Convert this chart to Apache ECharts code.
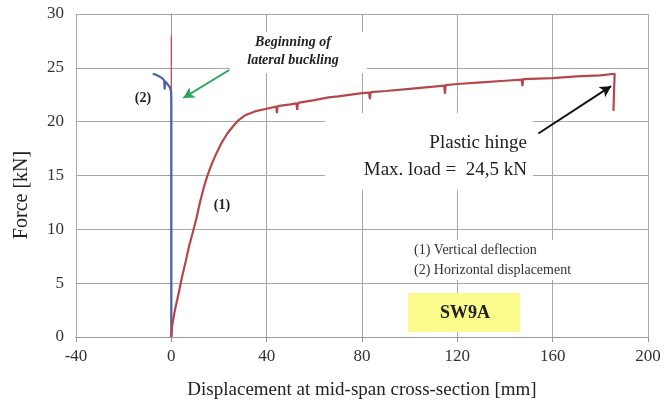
<!DOCTYPE html>
<html>
<head>
<meta charset="utf-8">
<script src="https://cdn.jsdelivr.net/npm/echarts@6/dist/echarts.min.js"></script>
<style>
html,body{margin:0;padding:0;background:#fff;}
#c{width:666px;height:405px;}
</style>
</head>
<body>
<div id="c"></div>
<script>
// X ticks and Y ticks
var xTicks = [-40, 0, 40, 80, 120, 160, 200];
var yTicks = [0, 5, 10, 15, 20, 25, 30];

// (1) Vertical deflection: displacement [mm]
var vertDisp = [0, 0.3, 1.5, 3, 4.5, 6, 7.5, 9, 10.5, 12, 13.5, 15, 17, 19, 21, 23.5, 26, 28, 31, 35, 40, 44, 44.3, 44.6, 50, 52.5, 52.8, 53.1, 60, 66, 70, 80, 83, 83.3, 83.6, 90, 100, 110, 114.5, 114.8, 115.1, 120, 130, 140, 147, 147.3, 147.6, 160, 170, 180, 186, 186.8, 185.5];
// (1) Vertical deflection: force [kN]
var vertForce = [0, 1, 2.5, 4, 5.6, 7, 8.5, 9.7, 11, 12.5, 13.8, 14.9, 16.1, 17.1, 18, 18.9, 19.6, 20.1, 20.6, 20.95, 21.2, 21.4, 20.8, 21.45, 21.6, 21.7, 21.1, 21.75, 22.0, 22.25, 22.35, 22.65, 22.7, 22.1, 22.75, 22.85, 23.05, 23.25, 23.35, 22.6, 23.4, 23.5, 23.65, 23.8, 23.9, 23.3, 23.95, 24.05, 24.2, 24.3, 24.45, 24.4, 21.0];

// (2) Horizontal displacement
var horDisp = [0, 0, -0.1, -0.6, -1.5, -2.6, -2.8, -3.0, -3.6, -5, -6.5, -7.8];
var horForce = [0, 22.2, 22.8, 23.2, 23.45, 23.75, 23.0, 23.8, 24.0, 24.2, 24.35, 24.45];

// thin vertical trace at zero
var spikeDisp = [0, 0];
var spikeForce = [0, 28];

// annotation arrows [from, to] in data units
var greenArrow = [[24.3, 24.8], [5.0, 22.2]];
var blackArrow = [[154, 18.9], [184.5, 23.3]];

function zip(a, b) { return a.map(function (v, i) { return [v, b[i]]; }); }

var FONT = 'Liberation Serif';
var chart = echarts.init(document.getElementById('c'));
chart.setOption({
  animation: false,
  backgroundColor: '#fff',
  grid: { left: 76, right: 18, top: 14, bottom: 63 },
  xAxis: {
    type: 'value', min: xTicks[0], max: xTicks[xTicks.length - 1], interval: 40,
    name: 'Displacement at mid-span cross-section [mm]',
    nameLocation: 'middle', nameGap: 44,
    nameTextStyle: { fontFamily: FONT, fontSize: 19, color: '#222' },
    axisLine: { onZero: false, lineStyle: { color: '#999' } },
    axisTick: { show: true, length: 5, lineStyle: { color: '#999' } },
    axisLabel: { fontFamily: FONT, fontSize: 17, color: '#333', margin: 11 },
    splitLine: { show: true, lineStyle: { color: '#a8a8a8', width: 1 } }
  },
  yAxis: {
    type: 'value', min: yTicks[0], max: yTicks[yTicks.length - 1], interval: 5,
    axisLine: { show: true, lineStyle: { color: '#999' } },
    axisTick: { show: true, length: 5, lineStyle: { color: '#999' } },
    axisLabel: { fontFamily: FONT, fontSize: 17, color: '#333', margin: 12 },
    splitLine: { show: true, lineStyle: { color: '#a8a8a8', width: 1 } }
  },
  graphic: [
    { type: 'rect', z: 1, shape: { x: 230, y: 32, width: 137, height: 41 }, style: { fill: '#fff' } },
    { type: 'rect', z: 1, shape: { x: 325, y: 113, width: 208, height: 77 }, style: { fill: '#fff' } },
    { type: 'rect', z: 1, shape: { x: 410, y: 240, width: 192, height: 40 }, style: { fill: '#fff' } },
    { type: 'rect', z: 1, shape: { x: 408, y: 293, width: 112, height: 39 }, style: { fill: '#fcfc8c' } },
    { type: 'text', z: 10, x: 293, y: 42, style: { text: 'Beginning of', font: 'italic bold 14px "Liberation Serif"', fill: '#222', textAlign: 'center', textVerticalAlign: 'middle' } },
    { type: 'text', z: 10, x: 293, y: 60, style: { text: 'lateral buckling', font: 'italic bold 14px "Liberation Serif"', fill: '#222', textAlign: 'center', textVerticalAlign: 'middle' } },
    { type: 'text', z: 10, x: 143, y: 98, style: { text: '(2)', font: 'bold 14px "Liberation Serif"', fill: '#222', textAlign: 'center', textVerticalAlign: 'middle' } },
    { type: 'text', z: 10, x: 222, y: 205, style: { text: '(1)', font: 'bold 14px "Liberation Serif"', fill: '#222', textAlign: 'center', textVerticalAlign: 'middle' } },
    { type: 'text', z: 10, x: 527, y: 143, style: { text: 'Plastic hinge', font: '19px "Liberation Serif"', fill: '#222', textAlign: 'right', textVerticalAlign: 'middle' } },
    { type: 'text', z: 10, x: 527, y: 170, style: { text: 'Max. load =  24,5 kN', font: '19px "Liberation Serif"', fill: '#222', textAlign: 'right', textVerticalAlign: 'middle' } },
    { type: 'text', z: 10, x: 414, y: 250, style: { text: '(1) Vertical deflection', font: '14px "Liberation Serif"', fill: '#333', textAlign: 'left', textVerticalAlign: 'middle' } },
    { type: 'text', z: 10, x: 414, y: 270, style: { text: '(2) Horizontal displacement', font: '14px "Liberation Serif"', fill: '#333', textAlign: 'left', textVerticalAlign: 'middle' } },
    { type: 'text', z: 10, x: 465, y: 313, style: { text: 'SW9A', font: 'bold 18px "Liberation Serif"', fill: '#222', textAlign: 'center', textVerticalAlign: 'middle' } },
    { type: 'text', z: 10, x: 22, y: 195, rotation: Math.PI / 2, style: { text: 'Force [kN]', font: '20px "Liberation Serif"', fill: '#222', textAlign: 'center', textVerticalAlign: 'middle' } }
  ],
  series: [
    {
      name: 'spike', type: 'line', data: zip(spikeDisp, spikeForce), showSymbol: false, z: 2,
      lineStyle: { color: '#c24a5c', width: 1.3 }
    },
    {
      name: '(2) Horizontal displacement', type: 'line', data: zip(horDisp, horForce), showSymbol: false, z: 3,
      lineStyle: { color: '#4a62a8', width: 2.2 },
      markLine: {
        silent: true, symbol: ['none', 'arrow'], symbolSize: [9, 11],
        label: { show: false },
        lineStyle: { color: '#2aa35f', width: 2, type: 'solid' },
        data: [[{ coord: greenArrow[0] }, { coord: greenArrow[1] }]]
      }
    },
    {
      name: '(1) Vertical deflection', type: 'line', data: zip(vertDisp, vertForce), showSymbol: false, z: 3,
      lineStyle: { color: '#b5474a', width: 2.2 },
      markLine: {
        silent: true, symbol: ['none', 'arrow'], symbolSize: [9, 11],
        label: { show: false },
        lineStyle: { color: '#111', width: 2, type: 'solid' },
        data: [[{ coord: blackArrow[0] }, { coord: blackArrow[1] }]]
      }
    }
  ]
});
</script>
</body>
</html>
